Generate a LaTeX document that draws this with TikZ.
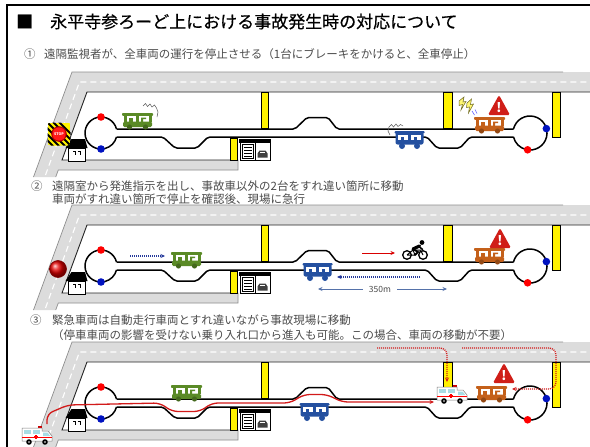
\documentclass[tikz,border=0pt]{standalone}
\usepackage{fontspec}
\setmainfont{Noto Sans CJK JP}
\newfontfamily\headfont[FakeBold=0.5]{Noto Sans CJK JP}
\usetikzlibrary{arrows.meta}

\definecolor{roadgray}{HTML}{DCDCDC}
\definecolor{roadedge}{HTML}{8E8E8E}
\definecolor{cartgreen}{HTML}{5A8A26}
\definecolor{cartblue}{HTML}{2450A0}
\definecolor{cartorange}{HTML}{C4601A}
\definecolor{warnred}{HTML}{D01E18}
\definecolor{dotred}{HTML}{FF0000}
\definecolor{dotblue}{HTML}{0012C0}
\definecolor{txtgray}{HTML}{4C4C4C}
\definecolor{arrowblue}{HTML}{23389A}
\definecolor{dimblue}{HTML}{5572AA}
\definecolor{routered}{HTML}{D21A1A}
\definecolor{wincyan}{HTML}{A8DCE4}

\tikzset{
  lane/.style={line width=1.5pt, rounded corners=2pt},
  pillarbox/.style={fill=yellow, draw=black, line width=0.8pt},
  subtext/.style={anchor=base west, inner sep=0pt, text=txtgray,
    font=\fontsize{11.5}{13}\selectfont},
  dotpath/.style={line width=1.3pt, dash pattern=on 1pt off 1pt},
  tip/.style={-{Stealth[length=4.5pt,width=4pt]}},
  % small open cart with roof and posts
  pics/tuk/.style={code={
    \fill[white] (0,2.8) rectangle (29,9);
    \fill[#1, rounded corners=0.8pt] (-1,0) rectangle (30,2.8);
    \fill[#1] (0.5,2.8) rectangle (3.5,9);
    \fill[#1] (13,2.8) rectangle (15.5,9);
    \fill[#1] (25.5,2.8) rectangle (28.5,9);
    \fill[#1] (6,4.5) rectangle (9.5,9);
    \fill[#1] (18,4.5) -- (23,4.5) -- (23,6) -- (20,6) -- (20,9) -- (18,9) -- cycle;
    \fill[#1, rounded corners=1.5pt] (0,8.5) rectangle (29,14);
    \fill[#1!75!black] (6.5,14) circle[radius=2.6];
    \fill[#1!75!black] (22.5,14) circle[radius=2.6];
  }},
  % small bus
  pics/bus/.style={code={
    \fill[#1, rounded corners=1pt] (-0.5,0) rectangle (29.5,2.6);
    \fill[#1, rounded corners=2pt] (0.5,1.5) rectangle (28.5,13.5);
    \fill[white] (3,4) rectangle (13,8.5);
    \fill[white] (15.5,4) rectangle (26,8.5);
    \fill[#1] (6,6) rectangle (8.5,8.5);
    \fill[#1] (19,6) rectangle (21.5,8.5);
    \fill[#1] (7,15) circle[radius=3];
    \fill[#1] (22,15) circle[radius=3];
  }},
  % ambulance facing right
  pics/ambulance/.style={code={
    \fill[red!80!black] (16,1) rectangle (19.5,3);
    \draw[gray, fill=white, line width=0.5pt] (0,3) -- (20,3) -- (20,6) -- (26,6)
      -- (30,11) -- (30,16) -- (0,16) -- cycle;
    \fill[wincyan] (2,5) rectangle (9,9);
    \fill[wincyan] (11,5) rectangle (18,9);
    \fill[wincyan] (21,7.5) -- (25.5,7.5) -- (28.3,11) -- (21,11) -- cycle;
    \fill[red] (0,12.3) rectangle (30,13.2);
    \fill[red] (13.4,9.8) rectangle (14.6,14);
    \fill[red] (12,11.3) rectangle (16,12.5);
    \fill[black] (7,17) circle[radius=2.8];
    \fill[black] (23,17) circle[radius=2.8];
    \fill[white] (7,17) circle[radius=0.9];
    \fill[white] (23,17) circle[radius=0.9];
  }},
  % warning sign
  pics/warn/.style={code={
    \fill[warnred, rounded corners=1.5pt] (0,20) -- (11,0) -- (22,20) -- cycle;
    \node[text=white, font=\bfseries\fontsize{13}{13}\selectfont, inner sep=0pt]
      (ex) at (11,12.3) {!};
  }},
  % cyclist
  pics/cyclist/.style={code={
    \draw[line width=1.3pt] (5,15) circle[radius=4.3] (21,15) circle[radius=4.3];
    \draw[line width=1pt] (5,15) -- (11,10) -- (18.5,10) -- (21,15)
      (11,10) -- (13,15) -- (5,15);
    \fill (20,2.5) circle[radius=2.4];
    \draw[line width=3.2pt, line cap=round] (17.5,6) -- (11,9);
    \draw[line width=1.6pt, line cap=round] (17,6.5) -- (20.5,9.5);
    \draw[line width=1.8pt, line cap=round] (11,9) -- (16,12) -- (13,15);
  }},
  % crash sparks
  pics/spark/.style={code={
    \filldraw[fill=yellow!55, draw=olive!70!black, line width=0.5pt]
      (1,4) -- (6,0) -- (5,5) -- (8,4.5) -- (3,13) -- (4.5,7.5) -- (1,8.5) -- cycle;
    \filldraw[fill=yellow!55, draw=olive!70!black, line width=0.5pt]
      (9,6) -- (13.5,2) -- (12.5,7.5) -- (15.5,7) -- (10.5,16) -- (11.5,10) -- (8.5,10.5) -- cycle;
    \draw[blue!60, line width=0.6pt] (14,14) -- (16.5,18) (17,12.5) -- (19,16.5);
  }},
}

% the course: road, track lanes, loops, pillars, house and garage
\newcommand\drawcourse{%
  \fill[roadgray] (72,72) -- (590,72) -- (590,92) -- (87,92) -- (62,160)
    -- (238,160) -- (238,170) -- (58.3,170) -- (55.7,177) -- (33.5,177) -- cycle;
  \draw[roadedge, line width=0.7pt] (33.5,177) -- (72,72) -- (563,72);
  \draw[roadedge, line width=0.7pt] (55.7,177) -- (58.3,170) -- (238,170) -- (238,160);
  \draw[white, line width=1.1pt, dash pattern=on 6pt off 4pt]
    (45.5,175) -- (79.5,82) -- (590,82);
  \draw[black!85, line width=0.9pt] (238,160) -- (62,160) -- (87,92) -- (590,92);
  % pillars
  \draw[pillarbox] (261,92) rectangle (268,128);
  \draw[pillarbox] (230,138) rectangle (237,160);
  \draw[pillarbox] (443,92) rectangle (452,128);
  \draw[pillarbox] (552,92) rectangle (560,137);
  % lanes
  \draw[lane] (116.5,129) -- (295,129) -- (307,117.5) -- (328,117.5) -- (337,129) -- (513.5,129);
  \draw[lane] (116.5,137) -- (163,137) -- (175,148) -- (197,148) -- (208,137)
    -- (427,137) -- (437,148) -- (460,148) -- (470,137) -- (513.5,137);
  % turning loops
  \draw[line width=1.5pt] (116.5,129) arc[start angle=-14.5, end angle=-345.5, radius=16];
  \draw[line width=1.5pt] (513.5,129) arc[start angle=-166.4, end angle=166.4, radius=17];
  \fill[dotred] (101,117) circle[radius=3.8];
  \fill[dotblue] (101,149) circle[radius=3.8];
  \fill[dotblue] (546.4,128.6) circle[radius=3.8];
  \fill[dotred] (527.6,149.8) circle[radius=3.8];
  % house
  \fill[black] (65.5,148) -- (71.5,139) -- (85,139) -- (87.5,148) -- cycle;
  \draw[fill=white, line width=1pt] (68.5,148) rectangle (85,161);
  \draw[line width=0.8pt] (73,151.5) -- (75.5,151.5) -- (75.5,155)
    (77.5,151.5) -- (80,151.5) -- (80,155);
  % garage
  \fill[black] (239,139) rectangle (271,142.5);
  \draw[line width=1pt] (240,142) rectangle (270,160);
  \draw[line width=0.8pt] (255,142) -- (255,160);
  \draw[line width=0.5pt] (242.5,144.5) rectangle (253,158);
  \draw[line width=0.6pt] (244,147.5) -- (251.5,147.5) (244,150.5) -- (251.5,150.5)
    (244,153.5) -- (251.5,153.5) (244,156) -- (251.5,156);
  \fill[black!75] (257.5,157.5) -- (257.5,153.5) -- (259.5,150.5) -- (265.5,150.5)
    -- (267.5,153.5) -- (267.5,157.5) -- cycle;
  \fill[white] (260.2,151.5) rectangle (264.8,153.3);
}

\begin{document}
\begin{tikzpicture}[x=1pt,y=-1pt]
\useasboundingbox (0,0) rectangle (590,447);
\fill[white] (0,0) rectangle (590,447);

% courses for the three steps
\begin{scope}\drawcourse\end{scope}
\begin{scope}[shift={(0,133)}]\drawcourse\end{scope}
\begin{scope}[shift={(0,270)}]\drawcourse\end{scope}

% frame
\draw[line width=1.5pt] (7,447) -- (7,5) -- (590,5);

% headings
\node[anchor=base west, inner sep=0pt, font=\headfont\fontsize{17}{20}\selectfont] (title)
  at (16,28) {■　永平寺参ろーど上における事故発生時の対応について};
\node[subtext] (n1) at (24,58) {①};
\node[subtext] (t1) at (44,58) {遠隔監視者が、全車両の運行を停止させる（1台にブレーキをかけると、全車停止）};
\node[subtext] (n2) at (31,190) {②};
\node[subtext] (t2a) at (52,190) {遠隔室から発進指示を出し、事故車以外の2台をすれ違い箇所に移動};
\node[subtext] (t2b) at (52,203) {車両がすれ違い箇所で停止を確認後、現場に急行};
\node[subtext] (n3) at (30,324.5) {③};
\node[subtext] (t3a) at (52,324.5) {緊急車両は自動走行車両とすれ違いながら事故現場に移動};
\node[subtext] (t3b) at (52,339) {（停車車両の影響を受けない乗り入れ口から進入も可能。この場合、車両の移動が不要）};

% ---- step 1: all vehicles stopped
\begin{scope}
  \clip[rounded corners=3pt] (47.5,122.5) rectangle (70.5,145.5);
  \fill[yellow] (47.5,122.5) rectangle (70.5,145.5);
  \draw[black, line width=2pt] (35,122) -- (59,146) (41,122) -- (65,146) (47,122) -- (71,146)
    (53,122) -- (77,146) (59,122) -- (83,146) (29,122) -- (53,146);
\end{scope}
\fill[red!70!black] (59,134) circle[radius=7.8];
\fill[red!90] (59,134) circle[radius=6.6];
\node[text=white, font=\bfseries\fontsize{3.6}{4}\selectfont, inner sep=0pt] (stop) at (59,134) {STOP};

\pic (g1) at (123,113) {tuk=cartgreen};
\draw[gray!70!black, line width=0.5pt] (143,106) -- (145.5,103.5) -- (147.5,106.5) -- (150,104)
  -- (152,107) -- (154.5,105) -- (156.5,108) -- (158,112) -- (157,117);
\pic (b1) at (395,131) {bus=cartblue};
\draw[gray!70!black, line width=0.5pt] (389,127) -- (391.5,124.5) -- (393.5,127) -- (396,124)
  -- (398,126.5) -- (400.5,124.5) -- (403,126) (389,127) -- (388,131) -- (390,135);
\pic (k1) at (458,97) {spark};
\pic (o1) at (475,117) {tuk=cartorange};
\pic (w1) at (488,95) {warn};

% ---- step 2: vehicles move to the passing place
\shade[ball color=red!90!black] (58,269) circle[radius=8.5];
\draw[red!50!black, line width=0.6pt] (58,269) circle[radius=8.5];

\draw[arrowblue, dotpath, tip] (130,256) -- (165,256);
\pic (g2) at (172,252) {tuk=cartgreen};
\pic (b2) at (303,263) {bus=cartblue};
\draw[arrowblue, dotpath, tip] (420,277) -- (337,277);
\draw[red!85!black, line width=0.9pt, tip] (362,253) -- (395,253);
\pic (c2) at (402,240) {cyclist};
\node[inner sep=0pt, text=txtgray, font=\fontsize{8.5}{10}\selectfont] (d350) at (380,289) {350m};
\draw[dimblue, line width=1pt, tip] (d350.west) ++(-6,0) -- (318,289);
\draw[dimblue, line width=1pt, tip] (d350.east) ++(6,0) -- (447,289);
\pic (o2) at (475,248) {tuk=cartorange};
\pic (w2) at (489,228) {warn};

% ---- step 3: emergency vehicle drives in
\pic (g3) at (172,385) {tuk=cartgreen};
\pic (b3) at (300,403) {bus=cartblue};
\pic (o3) at (477,386) {tuk=cartorange};
\pic (w3) at (493,363) {warn};
\coordinate (amb1top) at (47,424);
\coordinate (amb2rear) at (434,402);
\draw[routered, line width=1.3pt, rounded corners=6pt, tip] (amb1top) -- (47,414) -- (68,405)
  -- (160,403) -- (172,411.5) -- (200,411.5) -- (212,403) -- (290,403) -- (304,394.5)
  -- (327,394.5) -- (342,402) -- (amb2rear);
\draw[routered, dotpath, rounded corners=7pt, tip] (377,348) -- (447,348) -- (447,382);
\draw[routered, dotpath, rounded corners=7pt, tip] (462,348) -- (556,348) -- (556,389) -- (512,389);
\pic (a1) at (22,425) {ambulance};
\pic (a2) at (437,384) {ambulance};
\end{tikzpicture}
\end{document}
